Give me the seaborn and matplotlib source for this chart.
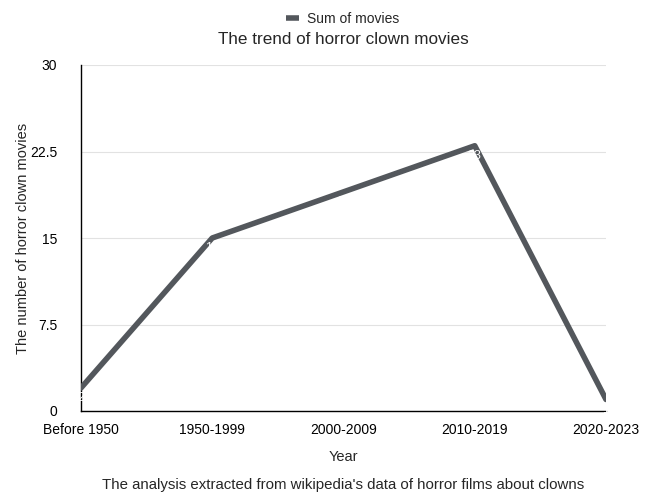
import matplotlib
matplotlib.use("Agg")
import matplotlib.pyplot as plt
import seaborn as sns
import pandas as pd

categories = ["Before 1950", "1950-1999", "2000-2009", "2010-2019", "2020-2023"]
movies = [2, 15, 19, 23, 1]
y_ticks = [0, 7.5, 15, 22.5, 30]
y_tick_labels = ["0", "7.5", "15", "22.5", "30"]

sns.set_theme(style="white")
plt.rcParams['font.family'] = ['Liberation Sans', 'DejaVu Sans']

df = pd.DataFrame({"Year": categories, "Sum of movies": movies})
df["pos"] = range(len(categories))

fig = plt.figure(figsize=(6.51, 4.92), dpi=100)
ax = fig.add_axes([81/651, 1 - 411/492, (606-81)/651, (411-65)/492])

line_color = "#53575c"
sns.lineplot(data=df, x="pos", y="Sum of movies", ax=ax, color=line_color,
             linewidth=4, label="Sum of movies", legend=False, zorder=3)

for x, v in zip(df["pos"], df["Sum of movies"]):
    ax.text(x, v - 0.9, str(v), color="white", fontsize=9, ha="center", va="center", zorder=4)

ax.set_xlim(0, len(categories) - 1)
ax.set_ylim(0, 30)
ax.set_yticks(y_ticks)
ax.set_yticklabels(y_tick_labels)
ax.set_xticks(df["pos"])
ax.set_xticklabels(categories)
ax.tick_params(axis="both", labelsize=10, colors="black", length=0)
ax.tick_params(axis="x", pad=9)
ax.tick_params(axis="y", pad=17)
ax.yaxis.grid(True, color="#e2e2e2", linewidth=0.8)
ax.xaxis.grid(False)
for s in ["top", "right"]:
    ax.spines[s].set_visible(False)
for s in ["left", "bottom"]:
    ax.spines[s].set_color("black")
    ax.spines[s].set_linewidth(1)

ax.set_xlabel("Year", fontsize=10.5, labelpad=9)
ax.set_ylabel("The number of horror clown movies", fontsize=10.5, labelpad=0)

fig.text(343/651, 1 - 40/492, "The trend of horror clown movies", ha="center", va="center", fontsize=12.3)
fig.legend(handles=[plt.Line2D([], [], color=line_color, linewidth=4, solid_capstyle="butt")],
           labels=["Sum of movies"],
           loc="center", bbox_to_anchor=(343/651, 1 - 19/492), frameon=False, fontsize=10,
           handlelength=0.9, handletextpad=0.6)
fig.text(343/651, 1 - 485/492, "The analysis extracted from wikipedia's data of horror films about clowns",
         ha="center", va="center", fontsize=10.8)

fig.savefig("out.png", dpi=100)
